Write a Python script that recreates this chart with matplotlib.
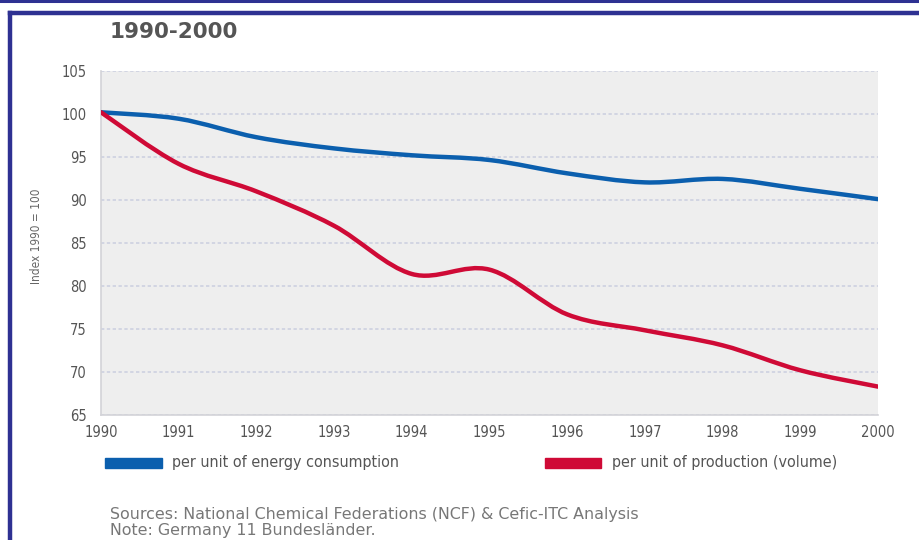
import matplotlib
matplotlib.use("Agg")
import matplotlib.pyplot as plt
from matplotlib.path import Path
from matplotlib.patches import PathPatch, Rectangle
from matplotlib.lines import Line2D

years = [1990, 1991, 1992, 1993, 1994, 1995, 1996, 1997, 1998, 1999, 2000]
energy = [100.2, 99.45, 97.3, 96.0, 95.2, 94.65, 93.1, 92.05, 92.45, 91.3, 90.1]
production = [100.2, 94.2, 91.0, 87.0, 81.4, 81.9, 76.7, 74.85, 73.1, 70.2, 68.3]
y_ticks = [65, 70, 75, 80, 85, 90, 95, 100, 105]

BLUE = '#0b5fae'
RED = '#cf0a36'
FRAME = '#2e3192'
NARROW = dict(family='DejaVu Sans', stretch='condensed')

W, H = 919, 540


def smooth_path(xs, ys):
    # catmull-rom through the points, drawn as cubic beziers
    pts = list(zip(xs, ys))
    verts = [pts[0]]
    codes = [Path.MOVETO]
    n = len(pts)
    for i in range(n - 1):
        p0 = pts[i - 1] if i > 0 else pts[i]
        p1 = pts[i]
        p2 = pts[i + 1]
        p3 = pts[i + 2] if i + 2 < n else pts[i + 1]
        c1 = (p1[0] + (p2[0] - p0[0]) / 6, p1[1] + (p2[1] - p0[1]) / 6)
        c2 = (p2[0] - (p3[0] - p1[0]) / 6, p2[1] - (p3[1] - p1[1]) / 6)
        verts += [c1, c2, p2]
        codes += [Path.CURVE4] * 3
    return Path(verts, codes)


fig = plt.figure(figsize=(W / 100, H / 100), dpi=100)
fig.patch.set_facecolor('white')

ax = fig.add_axes([101 / W, 1 - 415 / H, (878 - 101) / W, (415 - 71) / H])
ax.set_facecolor('#eeeeee')
ax.set_xlim(1990, 2000)
ax.set_ylim(65, 105)

for v in y_ticks:
    ax.axhline(v, color='#cdd1e0', linewidth=1.2, linestyle=(0, (2, 1.5)), zorder=1)

for xs, ys, col in ((years, energy, BLUE), (years, production, RED)):
    ax.add_patch(PathPatch(smooth_path(xs, ys), facecolor='none', edgecolor=col,
                           linewidth=3.2, capstyle='round', zorder=3))

ax.set_xticks(years)
ax.set_yticks(y_ticks)
ax.tick_params(axis='both', length=0, labelcolor='#555555', labelsize=10.5)
ax.tick_params(axis='y', pad=10)
ax.tick_params(axis='x', pad=7)
for lab in ax.get_xticklabels() + ax.get_yticklabels():
    lab.set_family(NARROW['family'])
    lab.set_stretch(NARROW['stretch'])
for side in ('top', 'right'):
    ax.spines[side].set_visible(False)
for side in ('left', 'bottom'):
    ax.spines[side].set_color('#d3d3d8')
    ax.spines[side].set_linewidth(1.2)

fig.text(37 / W, 1 - 236 / H, 'Index 1990 = 100', rotation=90, ha='center', va='center',
         color='#666666', fontsize=8.5, **NARROW)

fig.text(110 / W, 1 - 32 / H, '1990-2000', ha='left', va='center', color='#555555',
         fontsize=15.5, fontweight='bold')

# legend drawn by hand, like the original
fig.add_artist(Rectangle((105 / W, 1 - 468 / H), 57 / W, 10 / H, color=BLUE,
                         transform=fig.transFigure))
fig.text(172 / W, 1 - 463 / H, 'per unit of energy consumption', ha='left', va='center',
         color='#555555', fontsize=11.5, **NARROW)
fig.add_artist(Rectangle((545 / W, 1 - 468 / H), 56 / W, 10 / H, color=RED,
                         transform=fig.transFigure))
fig.text(612 / W, 1 - 463 / H, 'per unit of production (volume)', ha='left', va='center',
         color='#555555', fontsize=11.5, **NARROW)

fig.text(110 / W, 1 - 514 / H, 'Sources: National Chemical Federations (NCF) & Cefic-ITC Analysis',
         ha='left', va='center', color='#777777', fontsize=11.4)
fig.text(110 / W, 1 - 531 / H, 'Note: Germany 11 Bundesländer.',
         ha='left', va='center', color='#777777', fontsize=11.4)

# frame
fig.add_artist(Line2D([0, 1], [1 - 1 / H, 1 - 1 / H], color=FRAME, linewidth=2.2,
                      transform=fig.transFigure))
fig.add_artist(Line2D([9.5 / W, 1], [1 - 12.5 / H, 1 - 12.5 / H], color=FRAME, linewidth=3.2,
                      transform=fig.transFigure))
fig.add_artist(Line2D([9.5 / W, 9.5 / W], [0, 1 - 12.5 / H], color=FRAME, linewidth=3.2,
                      solid_capstyle='projecting', transform=fig.transFigure))

fig.savefig('out.png', dpi=100)
